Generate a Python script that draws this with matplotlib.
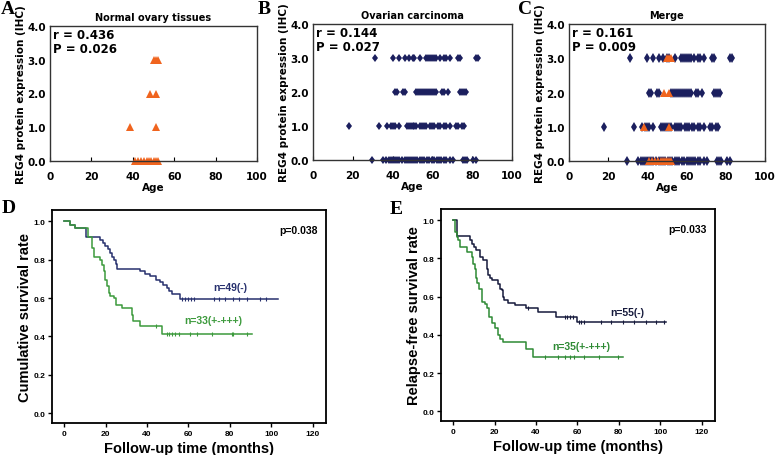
import numpy as np
import matplotlib
matplotlib.use("Agg")
import matplotlib.pyplot as plt

# --- REG4 IHC score vs age (panels A-C) ---
normal_age = {
    3: [50, 51, 52],
    2: [48.5, 51],
    1: [38.5, 51],
    0: [41, 42.5, 44, 45.5, 47, 48, 49, 50, 51, 52],
}
carcinoma_age = {
    3: [31, 40, 43, 46, 48, 50, 51, 54, 57, 58, 59, 60, 61, 62, 64, 66, 67,
        69, 73, 74, 82, 83],
    2: [41, 42, 45, 46, 52, 53, 54, 55, 56, 57, 58, 59, 60, 61, 62, 65, 66,
        68, 74, 75, 76, 77],
    1: [18, 33, 37, 39, 40, 41, 43, 47, 48, 49, 50, 51, 52, 54, 55, 56, 57,
        59, 60, 61, 63, 64, 66, 67, 69, 72, 73, 75, 76],
    0: [29.5, 35, 36.5, 38, 39, 40, 41, 42, 43, 44.5, 46, 47, 48, 49, 50.5,
        51.5, 52.5, 54, 55, 56, 57.5, 58.5, 60, 61, 62.5, 63.5, 64.5, 66, 67,
        69, 70.5, 75.5, 76.5, 77.5, 80.5, 82],
}
stats_abc = ["r = 0.436\nP = 0.026", "r = 0.144\nP = 0.027", "r = 0.161\nP = 0.009"]
titles_abc = ["Normal ovary tissues", "Ovarian carcinoma", "Merge"]

# --- Kaplan-Meier curves (panels D, E) ---
d_neg_t = [0, 2.9, 5.3, 10.6, 17.4, 18.7, 19.8, 20.9, 22.2, 23.0, 24.1, 25.1,
           25.4, 36.4, 39.1, 41.5, 44.4, 46.3, 47.9, 49.5, 50.8, 51.9, 55.9]
d_neg_s = [1.0, 0.98, 0.965, 0.915, 0.90, 0.885, 0.87, 0.855, 0.835, 0.815,
           0.80, 0.775, 0.753, 0.739, 0.725, 0.713, 0.696, 0.684, 0.67, 0.653,
           0.635, 0.621, 0.597]
d_neg_end = 103.4
d_neg_cens = [56.8, 58.4, 59.7, 61.1, 62.7, 72.1, 74.9, 77.7, 81.4, 84.6,
              88.1, 94.6, 97.5]

d_pos_t = [0, 2.9, 5.3, 11.3, 13.4, 14.1, 17.0, 18.2, 19.0, 19.8, 20.6, 21.4,
           22.2, 23.8, 25.1, 27.8, 32.6, 33.1, 36.7, 47.1]
d_pos_s = [1.0, 0.98, 0.965, 0.92, 0.86, 0.816, 0.80, 0.773, 0.739, 0.696,
           0.661, 0.627, 0.609, 0.60, 0.566, 0.549, 0.513, 0.479, 0.453, 0.414]
d_pos_end = 90.6
d_pos_cens = [44.4, 49.6, 50.8, 51.9, 53.6, 55.2, 60.8, 64.0, 71.3, 80.9,
              81.7, 88.1]

e_neg_t = [0, 1.9, 8.0, 9.2, 10.1, 10.9, 12.8, 14.1, 16.1, 16.5, 17.7, 18.9,
           21.7, 22.5, 23.3, 23.8, 24.4, 26.5, 29.7, 35.3, 40.9, 49.8, 59.9]
e_neg_s = [1.0, 0.916, 0.895, 0.874, 0.861, 0.843, 0.808, 0.791, 0.747,
           0.712, 0.695, 0.686, 0.668, 0.642, 0.633, 0.599, 0.585, 0.567,
           0.555, 0.538, 0.52, 0.494, 0.465]
e_neg_end = 102.7
e_neg_cens = [36.1, 53.8, 55.1, 56.2, 57.8, 60.5, 61.8, 63.1, 71.4, 76.2,
              81.8, 87.5, 93.1, 97.9, 101.9]

e_pos_t = [0, 0.8, 1.6, 2.4, 3.2, 6.4, 8.8, 9.6, 10.4, 10.9, 11.6, 12.5,
           13.7, 15.3, 16.1, 17.3, 18.5, 18.9, 20.1, 21.7, 22.5, 23.8, 35.3,
           38.5]
e_pos_s = [1.0, 0.939, 0.913, 0.896, 0.861, 0.834, 0.808, 0.773, 0.747,
           0.695, 0.669, 0.642, 0.573, 0.564, 0.538, 0.495, 0.477, 0.46,
           0.434, 0.399, 0.381, 0.364, 0.328, 0.286]
e_pos_end = 81.8
e_pos_cens = [44.1, 50.5, 53.8, 56.2, 58.2, 63.3, 70.6, 79.4]

NAVY = "#1b1f5e"
ORANGE = "#f0641e"
W, H = 778, 456


def box(l, t, r, b):
    return [l / W, (H - b) / H, (r - l) / W, (b - t) / H]


fig = plt.figure(figsize=(7.78, 4.56), dpi=100)
bold = dict(fontweight="bold", family="DejaVu Sans")


def scatter_panel(ax, groups, title, stat, letter, lx):
    for data, style in groups:
        for lvl, ages in data.items():
            ax.plot(ages, [lvl] * len(ages), linestyle="none", clip_on=False, **style)
    ax.set_xlim(0, 100)
    ax.set_ylim(0, 4)
    ax.set_xticks([0, 20, 40, 60, 80, 100])
    ax.set_yticks([0, 1, 2, 3, 4])
    ax.set_yticklabels(["0.0", "1.0", "2.0", "3.0", "4.0"])
    ax.tick_params(axis="x", direction="in", length=3, pad=7, labelsize=7.5)
    ax.tick_params(axis="y", length=0, pad=3, labelsize=7.5)
    for lab in ax.get_xticklabels() + ax.get_yticklabels():
        lab.set_fontweight("bold")
    for sp in ax.spines.values():
        sp.set_linewidth(1.0)
        sp.set_color("#333333")
    ax.set_title(title, fontsize=7, pad=4, **bold)
    ax.set_xlabel("Age", fontsize=7.5, labelpad=1, **bold)
    ax.set_ylabel("REG4 protein expression (IHC)", fontsize=7.5, labelpad=1, **bold)
    ax.text(0.015, 0.985, stat, transform=ax.transAxes, ha="left", va="top",
            fontsize=8.5, linespacing=1.05, **bold)
    fig.text(lx / W, 1 - 10 / H, letter, fontsize=14, fontweight="bold",
             family="Liberation Serif", va="center", ha="left")


tri = dict(marker="^", markersize=5.5, color=ORANGE, markeredgewidth=0)
dia = dict(marker="d", markersize=4.5, color=NAVY, markeredgewidth=0)
dia_c = dict(marker="d", markersize=5.5, color=NAVY, markeredgewidth=0)

axA = fig.add_axes(box(50, 27, 257, 162))
scatter_panel(axA, [(normal_age, tri)], titles_abc[0], stats_abc[0], "A", 1)
axB = fig.add_axes(box(313, 25, 512, 161))
scatter_panel(axB, [(carcinoma_age, dia)], titles_abc[1], stats_abc[1], "B", 258)
axC = fig.add_axes(box(569, 25, 765, 162))
scatter_panel(axC, [(carcinoma_age, dia_c), (normal_age, tri)], titles_abc[2],
              stats_abc[2], "C", 518)

arial = ["Liberation Sans", "DejaVu Sans"]


def km_panel(ax, curves, ylabel, pval, letter, lx, ly):
    for t, s, end, cens, col, lab, lpos in curves:
        tt = list(t) + [end]
        ss = list(s) + [s[-1]]
        ax.step(tt, ss, where="post", color=col, linewidth=1.1)
        idx = np.searchsorted(t, cens, side="right") - 1
        ax.plot(cens, np.asarray(s)[idx], linestyle="none", marker="|",
                markersize=3.5, markeredgewidth=0.8, color=col)
        ax.text(lpos[0], lpos[1], lab, color=col, fontsize=7.5,
                fontweight="bold", family=arial, ha="center", va="center")
    ax.set_xlim(-6, 126.5)
    ax.set_ylim(-0.05, 1.058)
    ax.set_xticks(range(0, 121, 20))
    ax.set_yticks([0, 0.2, 0.4, 0.6, 0.8, 1.0])
    ax.set_yticklabels(["0.0", "0.2", "0.4", "0.6", "0.8", "1.0"])
    ax.tick_params(direction="out", length=3, width=1, labelsize=6, pad=2)
    for lab in ax.get_xticklabels() + ax.get_yticklabels():
        lab.set_fontweight("bold")
        lab.set_family(arial)
    for sp in ax.spines.values():
        sp.set_linewidth(1.3)
    ax.set_xlabel("Follow-up time (months)", fontsize=10.5, fontweight="bold",
                  family=arial, labelpad=3)
    ax.set_ylabel(ylabel, fontsize=10.5, fontweight="bold", family=arial,
                  labelpad=1)
    ax.text(0.9, 0.905, pval, transform=ax.transAxes, ha="center", va="center",
            fontsize=7.5, fontweight="bold", family=arial)
    fig.text(lx / W, 1 - ly / H, letter, fontsize=14, fontweight="bold",
             family="Liberation Serif", va="center", ha="left")


axD = fig.add_axes(box(52, 211, 326, 424))
km_panel(axD, [
    (d_neg_t, d_neg_s, d_neg_end, d_neg_cens, "#27306e", "n=49(-)", (80, 0.66)),
    (d_pos_t, d_pos_s, d_pos_end, d_pos_cens, "#3c9a3c", "n=33(+-+++)", (72, 0.485)),
], "Cumulative survival rate", "p=0.038", "D", 2, 209)

axE = fig.add_axes(box(441, 210, 715, 422))
km_panel(axE, [
    (e_neg_t, e_neg_s, e_neg_end, e_neg_cens, "#161a3c", "n=55(-)", (84, 0.52)),
    (e_pos_t, e_pos_s, e_pos_end, e_pos_cens, "#2e8a34", "n=35(+-+++)", (62, 0.34)),
], "Relapse-free survival rate", "p=0.033", "E", 390, 210)

fig.savefig("out.png", dpi=100)
